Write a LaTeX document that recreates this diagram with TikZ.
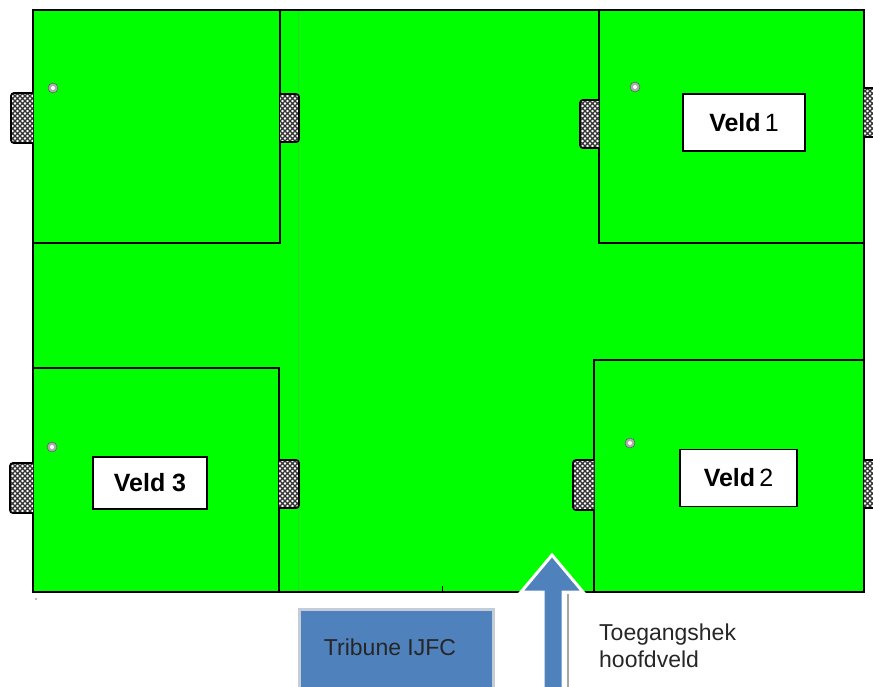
\documentclass[tikz,border=0pt]{standalone}
\usepackage{fontspec}
\setmainfont{Liberation Sans}
\usetikzlibrary{patterns}
\definecolor{pitch}{RGB}{0,255,0}
\definecolor{tribblue}{RGB}{79,129,189}
\definecolor{tribedge}{RGB}{196,204,216}
\pgfdeclarepatternformonly{netmesh}{\pgfqpoint{-1pt}{-1pt}}{\pgfqpoint{6pt}{6pt}}{\pgfqpoint{5pt}{5pt}}{%
  \pgfsetlinewidth{1.2pt}%
  \pgfpathmoveto{\pgfqpoint{-0.2pt}{-0.2pt}}\pgfpathlineto{\pgfqpoint{5.2pt}{5.2pt}}%
  \pgfpathmoveto{\pgfqpoint{-0.2pt}{5.2pt}}\pgfpathlineto{\pgfqpoint{5.2pt}{-0.2pt}}%
  \pgfusepath{stroke}}
\tikzset{
  fieldline/.style={draw=black, line width=1.4pt},
  goal/.style={draw=black, line width=1.8pt, rounded corners=3pt, preaction={fill=white}, pattern=netmesh, pattern color=black!80},
  ball/.style={circle, draw=gray!60!black, fill=gray!65, minimum size=10pt, inner sep=0pt},
  balleye/.style={circle, fill=white, minimum size=4pt, inner sep=0pt},
  veldbox/.style={draw=black, line width=1.2pt, fill=white, inner sep=0pt, font=\fontsize{25}{30}\selectfont},
  plain/.style={inner sep=0pt, font=\fontsize{23}{27}\selectfont, text=black!85}
}
\begin{document}
\begin{tikzpicture}[x=1pt,y=-1pt]
\useasboundingbox (0,0) rectangle (873,686);
% main pitch
\fill[pitch] (33,10) rectangle (864,592);
% faint seam
\draw[green!70!gray, line width=0.8pt] (298,11) -- (298,591);
% fields
\draw[fieldline] (33,243) -- (280,243) -- (280,10);
\draw[fieldline] (599,10) -- (599,243) -- (864,243);
\draw[fieldline] (33,368) -- (279,368) -- (279,592);
\draw[fieldline] (594,592) -- (594,360) -- (864,360);
\draw[black, line width=0.8pt] (442,586) -- (442,592);
% outer border
\draw[black, line width=2pt] (33,10) rectangle (864,592);
% goals
\draw[goal] (33,93) -- (11,93) -- (11,143) -- (33,143);
\draw[goal] (280,94) -- (299,94) -- (299,142) -- (280,142);
\draw[goal] (599,100) -- (580,100) -- (580,148) -- (599,148);
\draw[goal] (864,88) -- (878,88) -- (878,137) -- (864,137);
\draw[goal] (33,463) -- (10,463) -- (10,513) -- (33,513);
\draw[goal] (279,460) -- (299,460) -- (299,508) -- (279,508);
\draw[goal] (594,460) -- (573,460) -- (573,510) -- (594,510);
\draw[goal] (864,460) -- (878,460) -- (878,508) -- (864,508);
% balls
\node[ball] (b1) at (53,88) {};   \node[balleye] at (b1) {};
\node[ball] (b2) at (635,87) {};  \node[balleye] at (b2) {};
\node[ball] (b3) at (52,447) {};  \node[balleye] at (b3) {};
\node[ball] (b4) at (630,443) {}; \node[balleye] at (b4) {};
% labels
\node[veldbox, minimum width=122pt, minimum height=57pt] (v1) at (744,122.5) {\textbf{Veld}\,1};
\node[veldbox, minimum width=114pt, minimum height=52pt] (v3) at (150,483) {\textbf{Veld 3}};
\node[veldbox, minimum width=117pt, minimum height=57pt] (v2) at (738.5,478) {\textbf{Veld}\,2};
% tribune
\draw[draw=tribedge, line width=3pt, fill=tribblue] (299,609) rectangle (493,692);
\node[plain] (trib) at (390,647) {Tribune IJFC};
% arrow
\draw[gray!70, line width=2pt] (568,594) -- (568,690);
\draw[white, line width=3pt, fill=tribblue, line join=miter]
  (552,555) -- (583,592) -- (563,592) -- (563,692) -- (543,692) -- (543,592) -- (521,592) -- cycle;
\node[plain, anchor=north west, align=left] (toeg) at (599,624) {Toegangshek\\hoofdveld};
% stray dot
\fill[gray!70] (36,599) circle (1.2pt);
\end{tikzpicture}
\end{document}
